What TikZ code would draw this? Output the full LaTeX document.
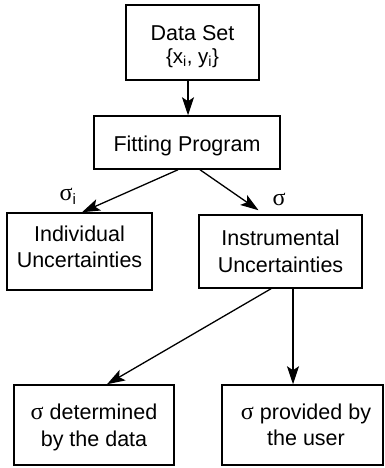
\documentclass[tikz,border=0pt]{standalone}
\usepackage{fontspec}
\setmainfont{Liberation Sans}
\newfontfamily\greekfont[Scale=1.12]{Liberation Serif}
\usetikzlibrary{arrows.meta}
\newcommand{\sig}{{\greekfont σ}}
\tikzset{
  blk/.style={rectangle, draw, line width=1.5pt, align=center, inner sep=0pt, font=\fontsize{21.5}{26.5}\selectfont},
  arr/.style={-{Stealth[length=18pt,width=12pt,inset=4pt]}, line width=1.3pt},
  lbl/.style={inner sep=0pt, font=\fontsize{21.5}{26.5}\selectfont}
}

\begin{document}
\begin{tikzpicture}[x=1pt, y=-1pt, node distance=100pt]
  \useasboundingbox (0,0) rectangle (384,468);
  \node[blk, minimum width=133pt, minimum height=75pt] (data) at (192.5,42.5) {\rule{0pt}{23pt}Data Set\\[-3.9pt] {\fontsize{20.5}{26.5}\selectfont\{x\textsubscript{i}, y\textsubscript{i}\}}};
  \node[blk, minimum width=186pt, minimum height=53pt, below of=data, xshift=-5.5pt] (fit) {\rule{0pt}{22pt}Fitting Program};
  \node[blk, minimum width=145pt, minimum height=77pt, below of=fit, node distance=109pt, xshift=-107.5pt] (indiv) {Individual\\Uncertainties\rule[-9.4pt]{0pt}{9.4pt}};
  \node[blk, minimum width=163pt, minimum height=73pt, right of=indiv, node distance=201pt] (instr) {Instrumental\\Uncertainties};
  \node[blk, minimum width=160pt, minimum height=80pt, below of=indiv, node distance=173.5pt, xshift=14.5pt] (detdata) {\rule{0pt}{20.7pt}\sig{} determined\\by the data};
  \node[blk, minimum width=161pt, minimum height=80pt, right of=detdata, node distance=208.5pt] (user) {\hspace*{7pt}\sig{} provided by\\\hspace*{7pt}the user};
  \draw[arr] ([xshift=-4.5pt]data.south) -- ([xshift=1pt]fit.north);
  \draw[arr] ([xshift=-9pt]fit.south) -- node[lbl, at end, anchor=south east, xshift=-5pt, yshift=7pt] {\sig\textsubscript{i}} ([xshift=2.5pt]indiv.north);
  \draw[arr] ([xshift=13pt]fit.south) -- node[lbl, at end, anchor=south west, xshift=13.5pt, yshift=4pt] {\sig} ([xshift=-22pt, yshift=4pt]instr.north);
  \draw[arr] ([xshift=-9.5pt]instr.south) -- ([xshift=13pt]detdata.north);
  \draw[arr] ([xshift=12.5pt]instr.south) -- ([xshift=-9.5pt]user.north);
\end{tikzpicture}
\end{document}
